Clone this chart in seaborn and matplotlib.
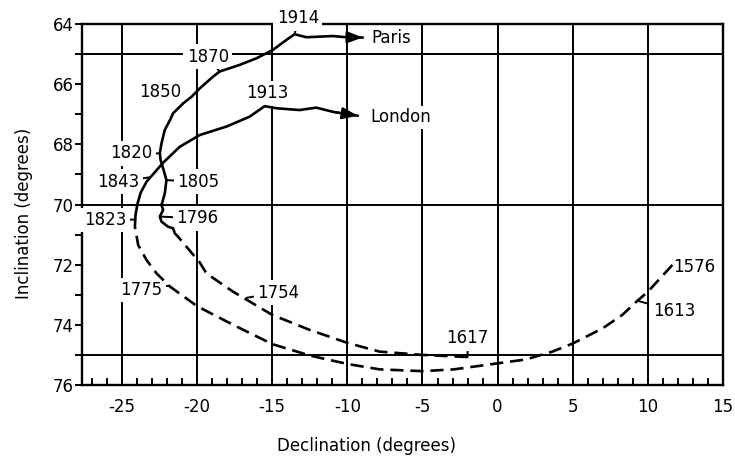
import matplotlib
matplotlib.use("Agg")
import matplotlib.pyplot as plt
import seaborn as sns

# ---- data (declination, inclination in degrees) ----
london_dash_x = [11.63, 10.0, 9.3, 8.3, 6.98, 5.0, 3.65, 1.89, 0.0, -2.9, -5.0, -7.86,
                 -10.0, -12.5, -15.0, -17.6, -20.0, -21.8, -22.7, -23.36, -23.92, -24.14]
london_dash_y = [72.01, 72.9, 73.2, 73.67, 74.12, 74.62, 74.89, 75.15, 75.28, 75.48, 75.54, 75.48,
                 75.3, 75.02, 74.64, 74.0, 73.38, 72.73, 72.29, 71.85, 71.35, 70.74]
london_solid_x = [-24.14, -24.1, -23.97, -23.75, -23.36, -22.26, -21.15, -19.82, -18.05, -16.5,
                  -15.5, -14.72, -13.18, -12.07, -10.96, -9.3]
london_solid_y = [70.74, 70.35, 69.98, 69.6, 69.24, 68.61, 68.08, 67.69, 67.41, 67.08,
                  66.73, 66.8, 66.86, 66.78, 66.92, 67.05]

paris_dash_x = [-2.0, -5.0, -7.86, -10.0, -12.5, -15.0, -17.6, -19.38, -19.82, -21.27]
paris_dash_y = [75.07, 75.0, 74.89, 74.6, 74.17, 73.67, 72.9, 72.29, 71.93, 71.07]
paris_solid_x = [-21.27, -21.48, -21.6, -21.93, -22.37, -22.48, -22.26, -22.37, -22.3, -22.15,
                 -22.04, -22.26, -22.43, -22.48, -22.37, -22.15, -21.8, -21.6, -20.93, -20.37,
                 -19.82, -18.94, -18.5, -17.17, -16.05, -14.95, -14.06, -13.51, -12.73, -11.85,
                 -10.96, -10.07, -8.97]
paris_solid_y = [71.07, 70.96, 70.79, 70.74, 70.57, 70.4, 70.18, 70.02, 69.9, 69.63,
                 69.19, 68.8, 68.52, 68.3, 67.97, 67.52, 67.19, 66.97, 66.64, 66.42,
                 66.14, 65.75, 65.58, 65.36, 65.14, 64.86, 64.53, 64.34, 64.44, 64.42,
                 64.4, 64.44, 64.45]

year_labels = ["1914", "1870", "1850", "1913", "1820", "1843", "1805", "1823",
               "1796", "1775", "1754", "1617", "1576", "1613"]
year_pt_x = [-13.5, -18.5, -20.93, -15.5, -22.48, -23.2, -22.04, -24.1,
             -22.48, -21.9, -16.7, -2.0, 11.63, 9.3]
year_pt_y = [64.34, 65.58, 66.64, 66.73, 68.3, 69.1, 69.19, 70.5,
             70.4, 72.7, 73.1, 75.07, 72.01, 73.2]
year_txt_x = [-13.3, -19.29, -22.48, -15.35, -24.36, -25.25, -19.93, -26.13,
              -20.0, -23.7, -14.62, -1.99, 13.07, 11.74]
year_txt_y = [63.81, 65.09, 66.25, 66.3, 68.3, 69.24, 69.24, 70.52,
              70.46, 72.84, 72.93, 74.45, 72.07, 73.53]

city_labels = ["Paris", "London"]
city_x = [-8.4, -8.5]
city_y = [64.45, 67.1]

x_ticks = [-25, -20, -15, -10, -5, 0, 5, 10, 15]
y_ticks = [64, 66, 68, 70, 72, 74, 76]
grid_x = [-25, -20, -15, -10, -5, 0, 5, 10]
grid_y = [65, 70, 75]

# ---- style ----
sns.set_theme(style="white")
plt.rcParams['font.family'] = ['DejaVu Sans']
plt.rcParams['axes.unicode_minus'] = False

fig = plt.figure(figsize=(7.35, 4.59), dpi=100)
ax = fig.add_axes([82 / 735, 1 - 385 / 459, 641 / 735, 361 / 459])
ax.set_xlim(-27.66, 15)
ax.set_ylim(76, 64)

for v in grid_x:
    ax.axvline(v, color="black", lw=1.4, zorder=1)
for h in grid_y:
    ax.axhline(h, color="black", lw=1.4, zorder=1)

line_kw = dict(color="black", lw=1.9, sort=False, estimator=None, ax=ax, zorder=5, legend=False)
dash = (0, (5, 2.6))
sns.lineplot(x=london_dash_x, y=london_dash_y, linestyle=dash, **line_kw)
sns.lineplot(x=paris_dash_x, y=paris_dash_y, linestyle=dash, **line_kw)
sns.lineplot(x=london_solid_x, y=london_solid_y, **line_kw)
sns.lineplot(x=paris_solid_x, y=paris_solid_y, **line_kw)

# arrowheads
for xs, ys in [(paris_solid_x, paris_solid_y), (london_solid_x, london_solid_y)]:
    ax.annotate("", xy=(xs[-1], ys[-1]), xytext=(xs[-2], ys[-2]),
                arrowprops=dict(arrowstyle="-|>,head_length=0.8,head_width=0.3",
                                color="black", lw=1.5, shrinkA=0, shrinkB=0,
                                mutation_scale=12), zorder=6)

# year labels with small ticks
for lab, px, py, tx, ty in zip(year_labels, year_pt_x, year_pt_y, year_txt_x, year_txt_y):
    ax.annotate(lab, xy=(px, py), xytext=(tx, ty), ha="center", va="center",
                fontsize=12, color="black", zorder=4, annotation_clip=False,
                bbox=dict(boxstyle="square,pad=0.2", fc="white", ec="none"),
                arrowprops=dict(arrowstyle="-", color="black", lw=1.4,
                                shrinkA=0, shrinkB=0))

for lab, cx, cy in zip(city_labels, city_x, city_y):
    ax.text(cx, cy, lab, ha="left", va="center", fontsize=12, color="black", zorder=4,
            bbox=dict(boxstyle="square,pad=0.15", fc="white", ec="none"))

# axes / ticks
for s in ax.spines.values():
    s.set_color("black")
    s.set_linewidth(1.7)
    s.set_zorder(2.5)

ax.set_xticks(x_ticks)
ax.set_xticks(list(range(-27, 16)), minor=True)
ax.set_yticks(y_ticks)
ax.set_yticks(list(range(64, 77)), minor=True)
ax.tick_params(axis="x", which="both", direction="in", length=5, width=1.4,
               bottom=True, top=False, labelsize=12, pad=9, colors="black")
ax.tick_params(axis="y", which="both", direction="out", length=5, width=1.4,
               left=True, right=False, labelsize=12, pad=1, colors="black")

ax.set_xlabel("Declination (degrees)", fontsize=12, color="black")
ax.set_ylabel("Inclination (degrees)", fontsize=12, color="black")
ax.xaxis.set_label_coords(0.444, -0.145)
ax.yaxis.set_label_coords(-0.076, 0.476)

fig.savefig("out.png", dpi=100, facecolor="white")
